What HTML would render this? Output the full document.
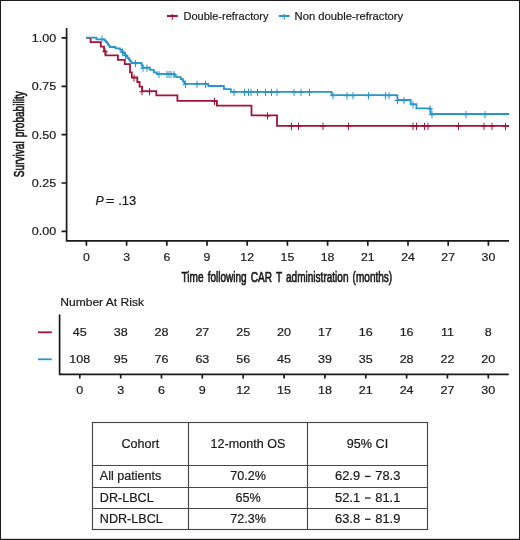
<!DOCTYPE html>
<html><head><meta charset="utf-8"><style>
html,body{margin:0;padding:0;background:#fff;width:520px;height:540px;overflow:hidden;font-family:"Liberation Sans",sans-serif;}
svg{display:block;will-change:transform;}
text{stroke:#1a1a1a;stroke-width:0.2px;}
</style></head><body>
<svg width="520" height="540" viewBox="0 0 520 540">
<rect x="0" y="0" width="520" height="540" fill="#fff"/>
<rect x="0.5" y="0.5" width="519" height="539" fill="none" stroke="#1c1c1c" stroke-width="1"/>
<rect x="0" y="538.8" width="520" height="1.2" fill="#1c1c1c"/>
<g font-family="Liberation Sans, sans-serif" font-size="11" fill="#1a1a1a">
<path d="M167,16 H177.8" stroke="#a21539" stroke-width="2.1"/><path d="M172.3,14 V19.8" stroke="#a21539" stroke-width="1.1"/>
<text x="183.5" y="20">Double-refractory</text>
<path d="M278.8,16 H289.6" stroke="#2a95ca" stroke-width="2.1"/><path d="M284.3,14 V19.8" stroke="#2a95ca" stroke-width="1.1"/>
<text x="294.6" y="20" textLength="108.6" lengthAdjust="spacingAndGlyphs">Non double-refractory</text>
</g>
<g stroke="#1a1a1a" stroke-width="1.7" fill="none">
<path d="M66.6,28.1 V240.8 H509"/>
<path d="M61.5,37.9 H66.6 M61.5,86.3 H66.6 M61.5,134.7 H66.6 M61.5,183.0 H66.6 M61.5,231.4 H66.6 M86.4,240.8 V245.8 M126.6,240.8 V245.8 M166.8,240.8 V245.8 M207.0,240.8 V245.8 M247.2,240.8 V245.8 M287.4,240.8 V245.8 M327.6,240.8 V245.8 M367.8,240.8 V245.8 M408.0,240.8 V245.8 M448.2,240.8 V245.8 M488.4,240.8 V245.8 "/>
</g>
<g font-family="Liberation Sans, sans-serif" fill="#1a1a1a">
<text transform="translate(56.10,41.90) scale(1.090,1)" font-size="11.5" text-anchor="end">1.00</text>
<text transform="translate(56.10,90.28) scale(1.090,1)" font-size="11.5" text-anchor="end">0.75</text>
<text transform="translate(56.10,138.65) scale(1.090,1)" font-size="11.5" text-anchor="end">0.50</text>
<text transform="translate(56.10,187.03) scale(1.090,1)" font-size="11.5" text-anchor="end">0.25</text>
<text transform="translate(56.10,235.40) scale(1.090,1)" font-size="11.5" text-anchor="end">0.00</text>
<text transform="translate(86.40,261.00) scale(1.070,1)" font-size="11.5" text-anchor="middle">0</text>
<text transform="translate(126.60,261.00) scale(1.070,1)" font-size="11.5" text-anchor="middle">3</text>
<text transform="translate(166.80,261.00) scale(1.070,1)" font-size="11.5" text-anchor="middle">6</text>
<text transform="translate(207.00,261.00) scale(1.070,1)" font-size="11.5" text-anchor="middle">9</text>
<text transform="translate(247.20,261.00) scale(1.070,1)" font-size="11.5" text-anchor="middle">12</text>
<text transform="translate(287.40,261.00) scale(1.070,1)" font-size="11.5" text-anchor="middle">15</text>
<text transform="translate(327.60,261.00) scale(1.070,1)" font-size="11.5" text-anchor="middle">18</text>
<text transform="translate(367.80,261.00) scale(1.070,1)" font-size="11.5" text-anchor="middle">21</text>
<text transform="translate(408.00,261.00) scale(1.070,1)" font-size="11.5" text-anchor="middle">24</text>
<text transform="translate(448.20,261.00) scale(1.070,1)" font-size="11.5" text-anchor="middle">27</text>
<text transform="translate(488.40,261.00) scale(1.070,1)" font-size="11.5" text-anchor="middle">30</text>
</g>
<text x="181.6" y="281.8" font-family="Liberation Sans, sans-serif" font-size="15" word-spacing="2" fill="#1a1a1a" style="stroke-width:0.7px" stroke="#1a1a1a" textLength="210.6" lengthAdjust="spacingAndGlyphs">Time following CAR T administration (months)</text>
<text transform="translate(23.6,177.2) rotate(-90)" font-family="Liberation Sans, sans-serif" font-size="15" word-spacing="2" fill="#1a1a1a" style="stroke-width:0.7px" stroke="#1a1a1a" textLength="86" lengthAdjust="spacingAndGlyphs">Survival probability</text>
<g font-family="Liberation Sans, sans-serif" fill="#1a1a1a">
<text transform="translate(95.40,204.80) scale(1.030,1)" font-size="12" font-style="italic">P</text>
<text transform="translate(105.80,204.80) scale(1.250,1)" font-size="12">=</text>
<text transform="translate(118.20,204.80) scale(1.080,1)" font-size="12">.13</text>
</g>
<path d="M86.3,37.8 H90.6 V42.2 H100.8 V46.6 H104.0 V51.2 H105.6 V55.4 H117.9 V59.8 H124.8 V64.2 H130.0 V68.2 H130.0 V72.3 H131.8 V77.4 H137.3 V82.0 H139.6 V86.6 H142.1 V91.2 H156.3 V95.3 H177.4 V100.8 H216.9 V105.7 H251.5 V110.5 H251.5 V115.4 H277.0 V120.5 H277.0 V125.8 H509.2" stroke="#a21539" stroke-width="1.8" fill="none"/>
<path d="M105.0,48.2 V55.4 M134.0,74.4 V81.6 M142.0,88.2 V95.4 M149.5,88.2 V95.4 M214.5,97.8 V105.0 M267.5,112.4 V119.6 M291.5,122.8 V130.0 M298.5,122.8 V130.0 M323.0,122.8 V130.0 M348.5,122.8 V130.0 M413.0,122.8 V130.0 M416.5,122.8 V130.0 M424.5,122.8 V130.0 M428.0,122.8 V130.0 M458.5,122.8 V130.0 M484.0,122.8 V130.0 M492.0,122.8 V130.0 M505.5,122.8 V130.0 " stroke="#a21539" stroke-width="1.0" fill="none"/><path d="M102.2,51.8 H107.8 M131.2,78.0 H136.8 M139.2,91.8 H144.8 M146.7,91.8 H152.3 M211.7,101.4 H217.3 M264.7,116.0 H270.3 M288.7,126.4 H294.3 M295.7,126.4 H301.3 M320.2,126.4 H325.8 M345.7,126.4 H351.3 M410.2,126.4 H415.8 M413.7,126.4 H419.3 M421.7,126.4 H427.3 M425.2,126.4 H430.8 M455.7,126.4 H461.3 M481.2,126.4 H486.8 M489.2,126.4 H494.8 M502.7,126.4 H508.3 " stroke="#a21539" stroke-width="1.1" fill="none"/>
<path d="M86.3,37.6 H96.5 V39.3 H104.6 V40.7 H106.0 V42.2 H107.3 V43.7 H108.4 V45.3 H109.6 V47.0 H115.5 V48.3 H120.0 V49.6 H121.5 V51.3 H123.0 V53.0 H124.6 V54.6 H126.0 V56.3 H127.4 V58.0 H128.8 V59.7 H130.2 V61.3 H131.4 V63.0 H141.6 V65.3 H142.6 V67.6 H150.0 V69.9 H153.8 V72.3 H156.7 V73.9 H174.6 V76.4 H176.5 V77.2 H180.8 V79.2 H183.0 V81.5 H184.6 V83.8 H208.3 V86.0 H223.9 V89.2 H230.8 V91.8 H331.5 V95.2 H397.4 V100.0 H410.7 V104.2 H416.4 V108.3 H430.6 V114.0 H509.2" stroke="#2a95ca" stroke-width="1.8" fill="none"/>
<path d="M102.0,35.6 V42.8 M122.5,48.5 V55.7 M125.5,52.0 V59.2 M135.5,60.0 V67.2 M143.0,64.6 V71.8 M147.0,64.6 V71.8 M159.0,70.9 V78.1 M167.0,70.9 V78.1 M169.0,70.9 V78.1 M171.0,70.9 V78.1 M174.0,70.9 V78.1 M185.5,80.8 V88.0 M197.0,80.8 V88.0 M205.5,80.8 V88.0 M234.0,88.8 V96.0 M244.5,88.8 V96.0 M248.5,88.8 V96.0 M251.0,88.8 V96.0 M257.5,88.8 V96.0 M265.5,88.8 V96.0 M271.5,88.8 V96.0 M277.0,88.8 V96.0 M294.0,88.8 V96.0 M301.0,88.8 V96.0 M309.5,88.8 V96.0 M333.0,92.2 V99.4 M347.0,92.2 V99.4 M353.0,92.2 V99.4 M368.5,92.2 V99.4 M385.5,92.2 V99.4 M389.0,92.2 V99.4 M397.5,97.0 V104.2 M404.0,97.0 V104.2 M413.0,101.2 V108.4 M430.0,105.3 V112.5 M432.0,111.0 V118.2 M466.0,111.0 V118.2 M485.0,111.0 V118.2 " stroke="#2a95ca" stroke-width="1.0" fill="none"/><path d="M99.2,39.2 H104.8 M119.7,52.1 H125.3 M122.7,55.6 H128.3 M132.7,63.6 H138.3 M140.2,68.2 H145.8 M144.2,68.2 H149.8 M156.2,74.5 H161.8 M164.2,74.5 H169.8 M166.2,74.5 H171.8 M168.2,74.5 H173.8 M171.2,74.5 H176.8 M182.7,84.4 H188.3 M194.2,84.4 H199.8 M202.7,84.4 H208.3 M231.2,92.4 H236.8 M241.7,92.4 H247.3 M245.7,92.4 H251.3 M248.2,92.4 H253.8 M254.7,92.4 H260.3 M262.7,92.4 H268.3 M268.7,92.4 H274.3 M274.2,92.4 H279.8 M291.2,92.4 H296.8 M298.2,92.4 H303.8 M306.7,92.4 H312.3 M330.2,95.8 H335.8 M344.2,95.8 H349.8 M350.2,95.8 H355.8 M365.7,95.8 H371.3 M382.7,95.8 H388.3 M386.2,95.8 H391.8 M394.7,100.6 H400.3 M401.2,100.6 H406.8 M410.2,104.8 H415.8 M427.2,108.9 H432.8 M429.2,114.6 H434.8 M463.2,114.6 H468.8 M482.2,114.6 H487.8 " stroke="#2a95ca" stroke-width="1.1" fill="none"/>
<g font-family="Liberation Sans, sans-serif" fill="#1a1a1a"><text transform="translate(60.20,305.60) scale(1.060,1)" font-size="11.4">Number At Risk</text></g>
<path d="M38,332.3 H51.8" stroke="#a21539" stroke-width="1.8"/>
<path d="M38,359.3 H51.8" stroke="#2a95ca" stroke-width="1.8"/>
<g stroke="#1a1a1a" stroke-width="1.7" fill="none">
<path d="M59.6,314.5 V374.3 H508.8"/>
<path d="M79.8,374.3 V378.6 M120.7,374.3 V378.6 M161.5,374.3 V378.6 M202.3,374.3 V378.6 M243.2,374.3 V378.6 M284.1,374.3 V378.6 M324.9,374.3 V378.6 M365.8,374.3 V378.6 M406.6,374.3 V378.6 M447.4,374.3 V378.6 M488.3,374.3 V378.6 "/>
</g>
<g font-family="Liberation Sans, sans-serif" fill="#1a1a1a">
<text transform="translate(79.80,336.10) scale(1.100,1)" font-size="11.4" text-anchor="middle">45</text>
<text transform="translate(79.80,362.90) scale(1.100,1)" font-size="11.4" text-anchor="middle">108</text>
<text transform="translate(79.80,394.10) scale(1.100,1)" font-size="11.4" text-anchor="middle">0</text>
<text transform="translate(120.65,336.10) scale(1.100,1)" font-size="11.4" text-anchor="middle">38</text>
<text transform="translate(120.65,362.90) scale(1.100,1)" font-size="11.4" text-anchor="middle">95</text>
<text transform="translate(120.65,394.10) scale(1.100,1)" font-size="11.4" text-anchor="middle">3</text>
<text transform="translate(161.50,336.10) scale(1.100,1)" font-size="11.4" text-anchor="middle">28</text>
<text transform="translate(161.50,362.90) scale(1.100,1)" font-size="11.4" text-anchor="middle">76</text>
<text transform="translate(161.50,394.10) scale(1.100,1)" font-size="11.4" text-anchor="middle">6</text>
<text transform="translate(202.35,336.10) scale(1.100,1)" font-size="11.4" text-anchor="middle">27</text>
<text transform="translate(202.35,362.90) scale(1.100,1)" font-size="11.4" text-anchor="middle">63</text>
<text transform="translate(202.35,394.10) scale(1.100,1)" font-size="11.4" text-anchor="middle">9</text>
<text transform="translate(243.20,336.10) scale(1.100,1)" font-size="11.4" text-anchor="middle">25</text>
<text transform="translate(243.20,362.90) scale(1.100,1)" font-size="11.4" text-anchor="middle">56</text>
<text transform="translate(243.20,394.10) scale(1.100,1)" font-size="11.4" text-anchor="middle">12</text>
<text transform="translate(284.05,336.10) scale(1.100,1)" font-size="11.4" text-anchor="middle">20</text>
<text transform="translate(284.05,362.90) scale(1.100,1)" font-size="11.4" text-anchor="middle">45</text>
<text transform="translate(284.05,394.10) scale(1.100,1)" font-size="11.4" text-anchor="middle">15</text>
<text transform="translate(324.90,336.10) scale(1.100,1)" font-size="11.4" text-anchor="middle">17</text>
<text transform="translate(324.90,362.90) scale(1.100,1)" font-size="11.4" text-anchor="middle">39</text>
<text transform="translate(324.90,394.10) scale(1.100,1)" font-size="11.4" text-anchor="middle">18</text>
<text transform="translate(365.75,336.10) scale(1.100,1)" font-size="11.4" text-anchor="middle">16</text>
<text transform="translate(365.75,362.90) scale(1.100,1)" font-size="11.4" text-anchor="middle">35</text>
<text transform="translate(365.75,394.10) scale(1.100,1)" font-size="11.4" text-anchor="middle">21</text>
<text transform="translate(406.60,336.10) scale(1.100,1)" font-size="11.4" text-anchor="middle">16</text>
<text transform="translate(406.60,362.90) scale(1.100,1)" font-size="11.4" text-anchor="middle">28</text>
<text transform="translate(406.60,394.10) scale(1.100,1)" font-size="11.4" text-anchor="middle">24</text>
<text transform="translate(447.45,336.10) scale(1.100,1)" font-size="11.4" text-anchor="middle">11</text>
<text transform="translate(447.45,362.90) scale(1.100,1)" font-size="11.4" text-anchor="middle">22</text>
<text transform="translate(447.45,394.10) scale(1.100,1)" font-size="11.4" text-anchor="middle">27</text>
<text transform="translate(488.30,336.10) scale(1.100,1)" font-size="11.4" text-anchor="middle">8</text>
<text transform="translate(488.30,362.90) scale(1.100,1)" font-size="11.4" text-anchor="middle">20</text>
<text transform="translate(488.30,394.10) scale(1.100,1)" font-size="11.4" text-anchor="middle">30</text>
</g>
<g stroke="#474747" stroke-width="1.15" fill="none">
<rect x="92.5" y="422.5" width="335" height="107"/>
<path d="M188.5,422.5 V529.5 M307.5,422.5 V529.5 M92.5,465.5 H427.5 M92.5,487.5 H427.5 M92.5,508.5 H427.5"/>
</g>
<g font-family="Liberation Sans, sans-serif" font-size="12" fill="#1a1a1a">
<text transform="translate(140.30,447.50) scale(1.050,1)" font-size="12" text-anchor="middle">Cohort</text>
<text transform="translate(248.00,447.50) scale(1.050,1)" font-size="12" text-anchor="middle">12-month OS</text>
<text transform="translate(367.50,447.50) scale(1.050,1)" font-size="12" text-anchor="middle">95% CI</text>
<text transform="translate(99.80,479.90) scale(1.050,1)" font-size="12">All patients</text>
<text transform="translate(248.00,479.90) scale(1.050,1)" font-size="12" text-anchor="middle">70.2%</text>
<text transform="translate(360.10,479.90) scale(1.075,1)" font-size="12" text-anchor="end">62.9</text>
<text transform="translate(375.30,479.90) scale(1.075,1)" font-size="12">78.3</text>
<rect x="365.0" y="475.80" width="5.6" height="1.25" stroke="none"/>
<text transform="translate(99.80,501.50) scale(1.050,1)" font-size="12">DR-LBCL</text>
<text transform="translate(248.00,501.50) scale(1.050,1)" font-size="12" text-anchor="middle">65%</text>
<text transform="translate(360.10,501.50) scale(1.075,1)" font-size="12" text-anchor="end">52.1</text>
<text transform="translate(375.30,501.50) scale(1.075,1)" font-size="12">81.1</text>
<rect x="365.0" y="497.40" width="5.6" height="1.25" stroke="none"/>
<text transform="translate(99.80,522.70) scale(1.050,1)" font-size="12">NDR-LBCL</text>
<text transform="translate(248.00,522.70) scale(1.050,1)" font-size="12" text-anchor="middle">72.3%</text>
<text transform="translate(360.10,522.70) scale(1.075,1)" font-size="12" text-anchor="end">63.8</text>
<text transform="translate(375.30,522.70) scale(1.075,1)" font-size="12">81.9</text>
<rect x="365.0" y="518.60" width="5.6" height="1.25" stroke="none"/>
</g>
</svg>
</body></html>
